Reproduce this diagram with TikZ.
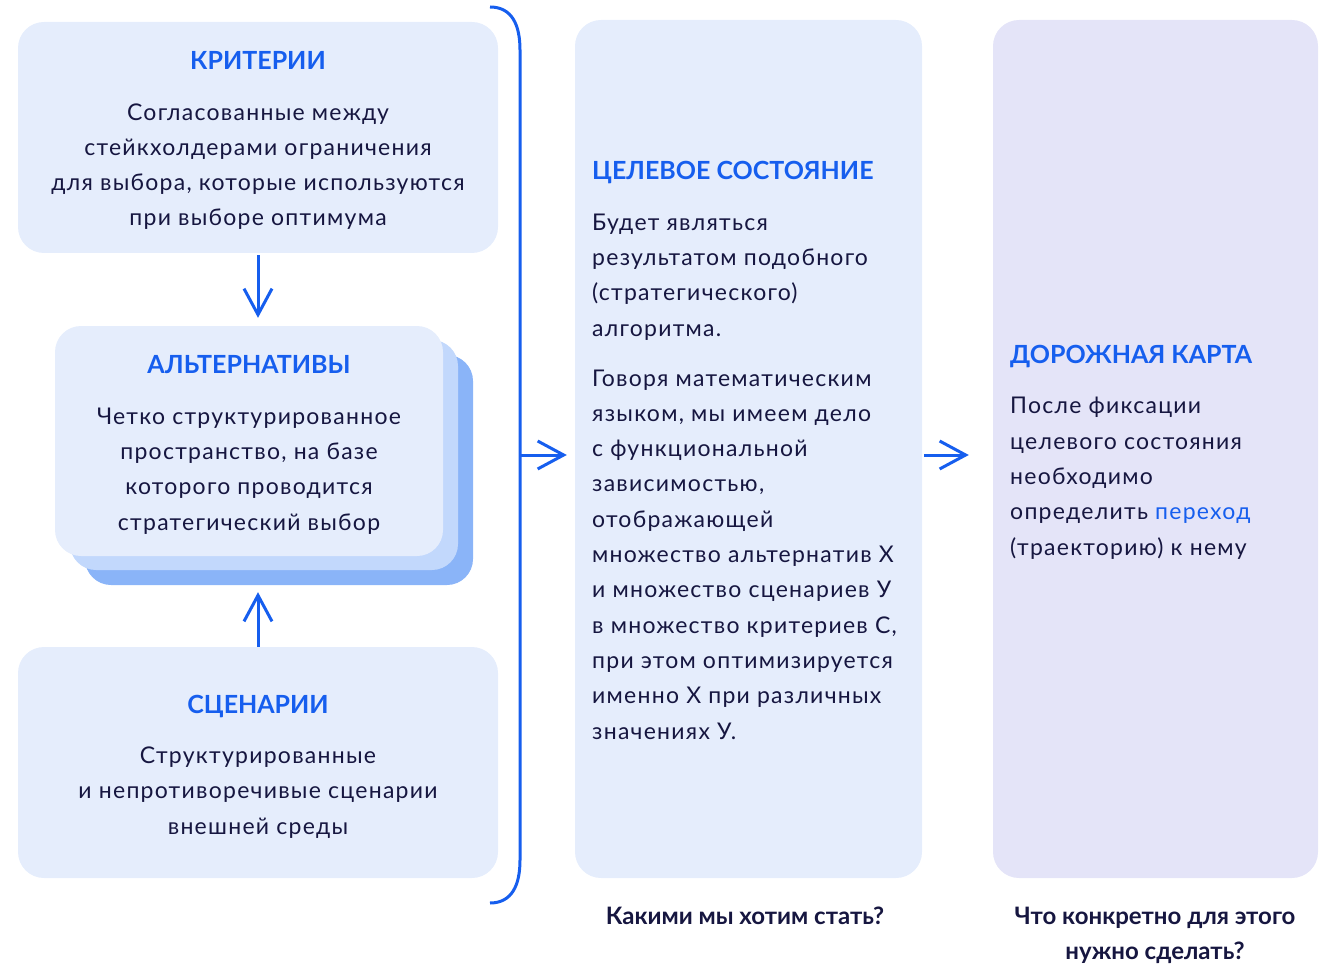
\documentclass[tikz,border=0pt]{standalone}
\usepackage{fontspec}
\setmainfont{Lato}[LetterSpace=5.5]
\newfontfamily\ttlfont{Lato}[LetterSpace=0]
\usetikzlibrary{arrows.meta}
\definecolor{boxfill}{RGB}{229,237,252}
\definecolor{lavfill}{RGB}{228,228,248}
\definecolor{midcard}{RGB}{194,216,252}
\definecolor{backcard}{RGB}{138,180,248}
\definecolor{accent}{RGB}{22,94,238}
\definecolor{navy}{RGB}{22,22,64}
\tikzset{
  card/.style={fill=#1, draw=none, rounded corners=26pt, inner sep=0pt},
  card/.default=boxfill,
  ttl/.style={font=\ttlfont\bfseries\fontsize{25}{30}\selectfont, text=accent, inner sep=0pt},
  body/.style={font=\fontsize{23}{35.3}\selectfont, text=navy, inner sep=0pt},
  captext/.style={font=\ttlfont\bfseries\fontsize{24}{35}\selectfont, text=navy, inner sep=0pt, align=center},
  arr/.style={draw=accent, line width=3pt, -{Straight Barb[length=26pt,width=28pt,line width=3pt]}},
  bracestyle/.style={draw=accent, line width=3pt}
}
\begin{document}
\begin{tikzpicture}[x=1pt,y=-1pt]
\useasboundingbox (0,0) rectangle (1338,976);
% left boxes
\node[card, minimum width=480pt, minimum height=231pt] (krit) at (258,137.5) {};
\node[card=backcard, minimum width=388pt, minimum height=230pt] (altC) at (279,470) {};
\node[card=midcard, minimum width=388pt, minimum height=230pt] (altB) at (264,455) {};
\node[card, minimum width=388pt, minimum height=230pt] (altA) at (249,441) {};
\node[card, minimum width=480pt, minimum height=231pt] (scen) at (258,762.5) {};
% right boxes
\node[card, minimum width=347pt, minimum height=858pt] (goal) at (748.5,449) {};
\node[card=lavfill, minimum width=325pt, minimum height=858pt] (road) at (1155.5,449) {};
% titles and texts (multi-line nodes: base = last line)
\node[ttl, anchor=base] (kritT) at (258,70) {КРИТЕРИИ};
\node[body, align=center, anchor=base] (kritB) at (258,226) {Согласованные между\\стейкхолдерами ограничения\\для выбора, которые используются\\при выборе оптимума};
\node[ttl, anchor=base] (altT) at (249,373) {АЛЬТЕРНАТИВЫ};
\node[body, align=center, anchor=base] (altBd) at (249,530) {Четко структурированное\\пространство, на базе\\которого проводится\\стратегический выбор};
\node[ttl, anchor=base] (scenT) at (258,713) {СЦЕНАРИИ};
\node[body, align=center, anchor=base] (scenB) at (258,834) {Структурированные\\и непротиворечивые сценарии\\внешней среды};
\node[ttl, anchor=base west] (goalT) at (592,180) {ЦЕЛЕВОЕ СОСТОЯНИЕ};
\node[body, align=left, anchor=base west] (goalB1) at (592,336) {Будет являться\\результатом подобного\\(стратегического)\\алгоритма.};
\node[body, align=left, anchor=base west] (goalB2) at (592,739) {Говоря математическим\\языком, мы имеем дело\\с функциональной\\зависимостью,\\отображающей\\множество альтернатив Х\\и множество сценариев У\\в множество критериев С,\\при этом оптимизируется\\именно Х при различных\\значениях У.};
\node[ttl, anchor=base west] (roadT) at (1010,363) {ДОРОЖНАЯ КАРТА};
\node[body, align=left, anchor=base west] (roadB) at (1010,555) {После фиксации\\целевого состояния\\необходимо\\определить \textcolor{accent}{переход}\\(траекторию) к нему};
% captions
\node[captext, anchor=base] (capG) at (745,924) {Какими мы хотим стать?};
\node[captext, anchor=base] (capR) at (1155,959) {Что конкретно для этого\\нужно сделать?};
% brace
\coordinate (bt) at (490,7);
\coordinate (bb) at (490,903);
\coordinate (bm) at (520,455);
\draw[bracestyle] (bt) .. controls (512,7) and (520,25) .. (520,50) -- (520,860) .. controls (520,885) and (512,903) .. (bb);
% arrows
\draw[arr, shorten >=8pt, shorten <=2pt] (krit.south) -- (krit.south |- altA.north);
\draw[arr, shorten >=7pt] (scen.north) -- (scen.north |- altC.south);
\draw[arr, shorten >=8pt] (bm) -- (goal.west |- bm);
\draw[arr, shorten <=2pt, shorten >=24pt] (goal.east |- bm) -- (road.west |- bm);
\end{tikzpicture}
\end{document}
